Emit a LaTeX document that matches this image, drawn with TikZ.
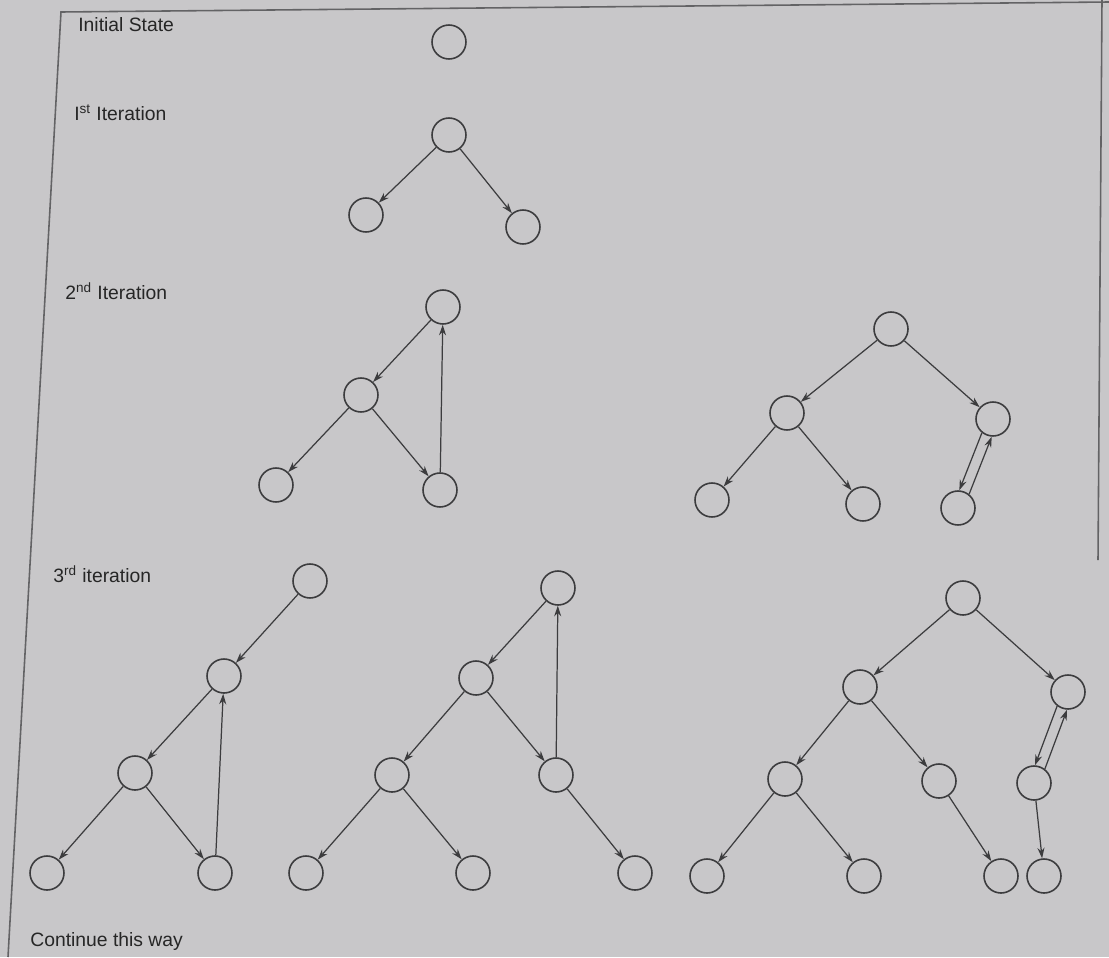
\documentclass[tikz,border=0pt]{standalone}
\usepackage{fontspec}
\setmainfont{Liberation Sans}
\usetikzlibrary{calc,arrows.meta}
\definecolor{paper}{RGB}{200,199,201}
\definecolor{ink}{RGB}{60,60,62}
\tikzset{
  st/.style={circle,draw=ink,line width=0.9pt,minimum size=0.68cm,inner sep=0pt},
  arr/.style={draw=ink,line width=0.7pt,-{Stealth[length=6pt,width=4pt]}},
  lbl/.style={anchor=base west,font=\fontsize{11}{13}\selectfont,text=black!85,inner sep=0pt},
  frame/.style={draw=ink!80,line width=0.9pt}
}
\begin{document}
\begin{tikzpicture}[x=0.02cm,y=-0.02cm]
\fill[paper] (0,0) rectangle (1109,957);
\useasboundingbox (0,0) rectangle (1109,957);
% frame
\coordinate (ftl) at (61,12);
\coordinate (fbl) at (8,957);
\coordinate (ftr) at (1109,2);
\coordinate (frt) at (1102,0);
\coordinate (frb) at (1098,560);
\draw[frame] (fbl) -- (ftl) -- (ftr);
\draw[frame] (frt) -- (frb);
% labels
\node[lbl] (l0) at (78,31) {Initial State};
\node[lbl] (l1) at (74,120) {I\textsuperscript{st} Iteration};
\node[lbl] (l2) at (65,299) {2\textsuperscript{nd} Iteration};
\node[lbl] (l3) at (53,582) {3\textsuperscript{rd} iteration};
\node[lbl] (l4) at (30,946) {Continue this way};
% initial
\node[st] (s0) at (449,42) {};
% 1st iteration
\node[st] (a1) at (449,135) {};
\node[st] (a2) at (366,215) {};
\node[st] (a3) at (523,227) {};
\draw[arr] (a1) -- (a2);
\draw[arr] (a1) -- (a3);
% 2nd iteration left
\node[st] (b1) at (443,307) {};
\node[st] (b2) at (361,395) {};
\node[st] (b3) at (276,485) {};
\node[st] (b4) at (440,490) {};
\draw[arr] (b1) -- (b2);
\draw[arr] (b2) -- (b3);
\draw[arr] (b2) -- (b4);
\draw[arr] (b4) -- (b1);
% 2nd iteration right
\node[st] (c1) at (891,329) {};
\node[st] (c2) at (787,413) {};
\node[st] (c3) at (993,419) {};
\node[st] (c4) at (712,500) {};
\node[st] (c5) at (863,504) {};
\node[st] (c6) at (958,508) {};
\draw[arr] (c1) -- (c2);
\draw[arr] (c1) -- (c3);
\draw[arr] (c2) -- (c4);
\draw[arr] (c2) -- (c5);
\draw[arr,shorten <=0.34cm,shorten >=0.34cm] ($(c3)!3pt!-90:(c6)$) -- ($(c6)!3pt!90:(c3)$);
\draw[arr,shorten <=0.34cm,shorten >=0.34cm] ($(c6)!3pt!-90:(c3)$) -- ($(c3)!3pt!90:(c6)$);
% 3rd iteration tree 1
\node[st] (d1) at (310,581) {};
\node[st] (d2) at (224,676) {};
\node[st] (d3) at (135,773) {};
\node[st] (d4) at (47,873) {};
\node[st] (d5) at (215,873) {};
\draw[arr] (d1) -- (d2);
\draw[arr] (d2) -- (d3);
\draw[arr] (d3) -- (d4);
\draw[arr] (d3) -- (d5);
\draw[arr] (d5) -- (d2);
% 3rd iteration tree 2
\node[st] (e1) at (558,588) {};
\node[st] (e2) at (476,678) {};
\node[st] (e3) at (392,775) {};
\node[st] (e4) at (556,775) {};
\node[st] (e5) at (306,873) {};
\node[st] (e6) at (473,873) {};
\node[st] (e7) at (635,873) {};
\draw[arr] (e1) -- (e2);
\draw[arr] (e2) -- (e3);
\draw[arr] (e2) -- (e4);
\draw[arr] (e3) -- (e5);
\draw[arr] (e3) -- (e6);
\draw[arr] (e4) -- (e7);
\draw[arr] (e4) -- (e1);
% 3rd iteration tree 3
\node[st] (f1) at (963,598) {};
\node[st] (f2) at (860,687) {};
\node[st] (f3) at (1068,692) {};
\node[st] (f4) at (785,779) {};
\node[st] (f5) at (939,781) {};
\node[st] (f6) at (1034,783) {};
\node[st] (f7) at (707,876) {};
\node[st] (f8) at (864,876) {};
\node[st] (f9) at (1001,876) {};
\node[st] (f10) at (1044,876) {};
\draw[arr] (f1) -- (f2);
\draw[arr] (f1) -- (f3);
\draw[arr] (f2) -- (f4);
\draw[arr] (f2) -- (f5);
\draw[arr] (f4) -- (f7);
\draw[arr] (f4) -- (f8);
\draw[arr] (f5) -- (f9);
\draw[arr] (f6) -- (f10);
\draw[arr,shorten <=0.34cm,shorten >=0.34cm] ($(f3)!3pt!-90:(f6)$) -- ($(f6)!3pt!90:(f3)$);
\draw[arr,shorten <=0.34cm,shorten >=0.34cm] ($(f6)!3pt!-90:(f3)$) -- ($(f3)!3pt!90:(f6)$);
\end{tikzpicture}
\end{document}
